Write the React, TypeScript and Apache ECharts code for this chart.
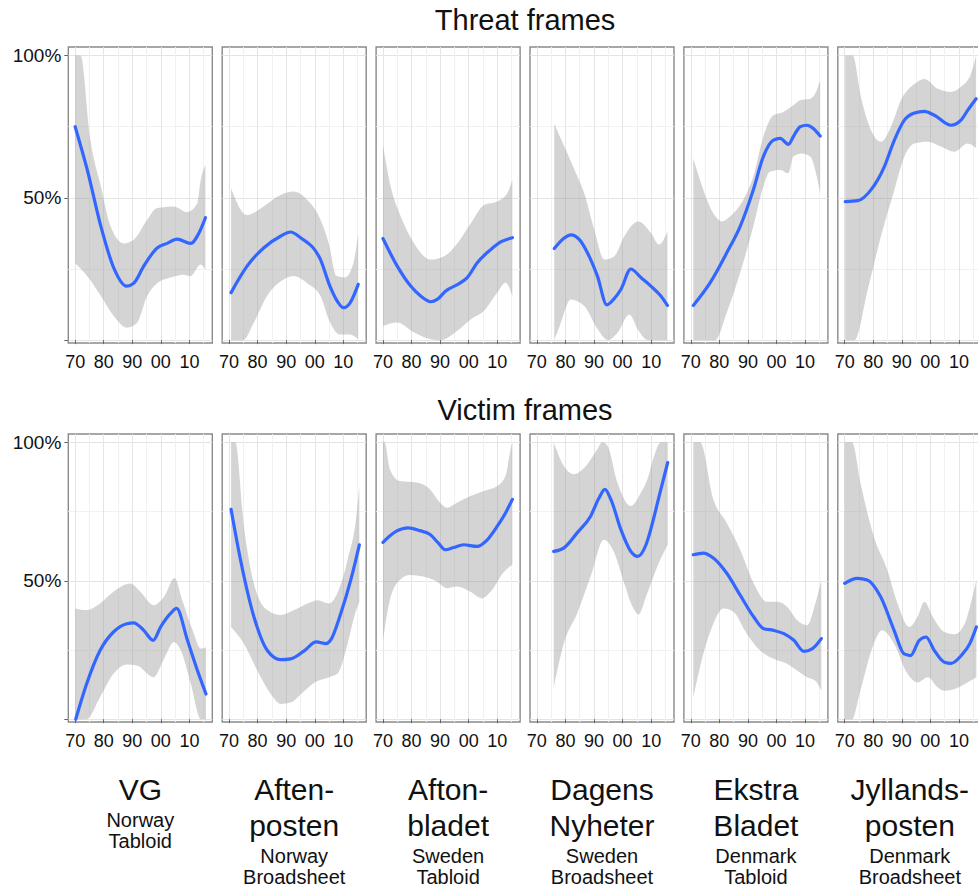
import React, { useEffect, useRef } from 'react';
import * as echarts from 'echarts';

const FONT = '"Liberation Sans", Arial, Helvetica, sans-serif';

// ---- axis ticks ----
const xTickYears = [1970, 1980, 1990, 2000, 2010];
const xTickLabels = ['70', '80', '90', '00', '10'];
const xMinorYears = [1975, 1985, 1995, 2005, 2015];
const yTickValues = [0, 50, 100];
const yTickLabels = ['', '50%', '100%'];
const yMinorValues = [25, 75];

// ---- facet labels ----
const rowTitles = ['Threat frames', 'Victim frames'];
const paperNames = [['VG'], ['Aften-', 'posten'], ['Afton-', 'bladet'], ['Dagens', 'Nyheter'], ['Ekstra', 'Bladet'], ['Jyllands-', 'posten']];
const paperCountries = ['Norway', 'Norway', 'Sweden', 'Sweden', 'Denmark', 'Denmark'];
const paperTypes = ['Tabloid', 'Broadsheet', 'Tabloid', 'Broadsheet', 'Tabloid', 'Broadsheet'];

// ---- Threat frames: [year, percent] ----
const vgThreatFit = [[1970, 75], [1974.2, 60], [1979, 40], [1983.5, 25.4], [1988, 19], [1990.5, 20], [1994, 26], [1998.7, 32.4], [2002.2, 34], [2005.7, 35.5], [2010.4, 34], [2013.3, 37.6], [2015.6, 43]];
const vgThreatUpper = [[1970, 100], [1971.9, 100], [1975.4, 70], [1979, 54], [1982.4, 40], [1987, 34], [1990.5, 35.3], [1995.2, 42.3], [1998.7, 46.4], [2004.5, 47], [2009.2, 45], [2012.7, 48], [2013.9, 56], [2015.6, 61.5]];
const vgThreatLower = [[1970, 27], [1974.2, 22.5], [1979, 15.5], [1983.5, 8.5], [1988.1, 4.4], [1991.6, 6], [1995.2, 15.5], [1998.7, 20], [2003.4, 22], [2008, 23], [2010.4, 22.5], [2013.9, 26.6], [2015.6, 24.8]];

const apThreatFit = [[1970.7, 16.7], [1976.3, 26], [1982.1, 32.4], [1988, 36.5], [1991.5, 38], [1995, 36], [2002, 28.3], [2005.3, 19], [2008, 13.5], [2010, 11.4], [2012.3, 13], [2015.2, 19.6]];
const apThreatUpper = [[1970.7, 53.4], [1976.3, 44], [1982.1, 47], [1988, 51], [1992.6, 52.2], [1997.3, 49.3], [2002, 42.3], [2004.9, 34], [2007.6, 22.5], [2010.6, 22], [2013.5, 27], [2015.2, 37.6]];
const apThreatLower = [[1970.7, 0], [1975, 0], [1978.6, 6], [1983.3, 15.5], [1989.1, 21.3], [1992.6, 22.5], [1997.3, 20], [2002, 15.5], [2004.9, 7.3], [2008.8, 2], [2012.3, 2], [2015.2, 0.3]];

const abThreatFit = [[1970, 35.7], [1975, 26], [1979.7, 19], [1983.2, 15.5], [1986.7, 13.5], [1989, 14.3], [1991.9, 17.2], [1997.2, 20.2], [1999.5, 22], [2003, 27.2], [2007.7, 31.8], [2011.2, 34.5], [2015.3, 36]];
const abThreatUpper = [[1970, 68.5], [1972.7, 54], [1976.2, 43.5], [1980.9, 34], [1986.7, 28.3], [1991.4, 29.5], [1996, 34], [2000.7, 41], [2005.4, 47.5], [2010, 48.7], [2013.5, 51.6], [2015.3, 56.3]];
const abThreatLower = [[1970, 5], [1975, 6.2], [1980.9, 2.7], [1986.7, 0.3], [1990.2, 0], [1996, 3.3], [2000.7, 7.3], [2005.4, 10.3], [2010, 16.7], [2012.9, 20.2], [2015.3, 15.5]];

const dnThreatFit = [[1976.1, 32.2], [1979.6, 35.9], [1981.9, 37], [1984.9, 35.3], [1987.7, 30.7], [1991.2, 22.5], [1994.5, 12.4], [1997, 14.5], [1999.4, 17.8], [2002.9, 25], [2006.4, 22], [2009.9, 19], [2013.4, 15.5], [2015.7, 12.2]];
const dnThreatUpper = [[1976.1, 76], [1979.6, 68], [1983.1, 60], [1986.6, 51.6], [1990.1, 38.8], [1993.6, 28.3], [1997.1, 29.5], [2000.6, 36.5], [2005.5, 41.7], [2009.9, 37.7], [2012.7, 33.6], [2015.7, 38.2]];
const dnThreatLower = [[1976.1, 0], [1978, 5], [1981.9, 14.3], [1986.6, 12], [1991.3, 3.8], [1994.8, 0], [1998.3, 2.7], [2002.4, 9], [2005.3, 3.8], [2008.8, 0], [2015.7, 0]];

const ebThreatFit = [[1970.9, 12.2], [1976.8, 20.2], [1982.6, 30.7], [1987.3, 40], [1991.9, 52.8], [1995.4, 64.5], [1998.9, 70.3], [2001.3, 70.9], [2004.2, 68.8], [2005.9, 71.5], [2008.3, 75], [2010.6, 75.5], [2012.9, 74.4], [2015.3, 71.7]];
const ebThreatUpper = [[1970.9, 63.9], [1974.4, 52.8], [1977.9, 44.6], [1980.9, 41.7], [1983.8, 43.5], [1988.4, 49.3], [1991.9, 57.5], [1995.4, 71.5], [1998.9, 79], [2002.4, 80.2], [2005.9, 82.5], [2008.3, 84.3], [2011.8, 84.8], [2014.1, 87.8], [2015.3, 91.3]];
const ebThreatLower = [[1970.9, 0], [1978.5, 0], [1982.6, 9.7], [1987.3, 23.7], [1991.9, 40], [1995.4, 54], [1997.7, 59.2], [2001.3, 59.8], [2004.2, 58.6], [2005.9, 64.5], [2008.8, 65.6], [2011.8, 64.5], [2014.1, 57.5], [2015.3, 51.6]];

const jpThreatFit = [[1970.2, 48.7], [1974.6, 49], [1979.2, 52.8], [1983.9, 61], [1987.4, 70.3], [1990.9, 77.3], [1994.4, 79.8], [1997.9, 80.4], [2001.4, 79], [2007.2, 75.5], [2010.7, 77.3], [2013.1, 80.8], [2016, 84.8]];
const jpThreatUpper = [[1970.2, 100], [1972.8, 100], [1975.7, 85.4], [1979.2, 73.8], [1982.7, 69.7], [1986.2, 75], [1989.7, 84.3], [1994.4, 90], [1997.9, 91.8], [2002.6, 88.3], [2007.2, 87.2], [2010.7, 89], [2014.2, 93.6], [2016, 100]];
const jpThreatLower = [[1970.2, 0], [1973.4, 0], [1978.1, 17.8], [1982.7, 36.5], [1987.4, 52.8], [1990.9, 64.5], [1994.4, 69.1], [1999.1, 69.7], [2003.7, 68], [2008.3, 66.2], [2013.1, 69.1], [2016, 67.4]];

// ---- Victim frames: [year, percent] ----
const vgVictimFit = [[1970.2, 0], [1974, 12.7], [1978.7, 24.8], [1983.4, 31.5], [1988.1, 34.5], [1990.5, 34.8], [1994, 32.1], [1997.3, 28.5], [1999.9, 33.3], [2003.4, 38.2], [2005.5, 40], [2009.3, 28.5], [2012.8, 17.6], [2015.8, 9.1]];
const vgVictimUpper = [[1970, 40], [1974, 39.4], [1978.7, 41.8], [1983.4, 46], [1989.3, 49], [1992.8, 46], [1997.5, 41.2], [2001.1, 44.2], [2004.8, 51], [2007.5, 43], [2011.1, 32.1], [2014, 25.5], [2015.8, 26]];
const vgVictimLower = [[1970, 0], [1974, 0], [1978.7, 7.9], [1983.4, 16.4], [1988.1, 19.8], [1991.6, 19.4], [1997.5, 15.2], [2001.1, 21.8], [2004.6, 27.9], [2007, 24.8], [2010.5, 12.7], [2014, 0], [2015.8, 0]];

const apVictimFit = [[1970.7, 75.8], [1974, 57.6], [1978.7, 37], [1983.4, 24.8], [1988.1, 21.5], [1991.6, 21.8], [1996.4, 24.8], [2000.5, 27.9], [2004, 27.3], [2005.5, 28.5], [2009.1, 38.2], [2012.6, 50.3], [2015.6, 63]];
const apVictimUpper = [[1970.7, 100], [1972.2, 100], [1975.2, 69.7], [1978.7, 49], [1983.4, 39.4], [1988.1, 37.6], [1992.8, 39.4], [1997.5, 41.8], [2001, 43], [2005, 41.8], [2007.9, 45.5], [2011.5, 57.6], [2014.4, 72], [2015.6, 84]];
const apVictimLower = [[1970.7, 33.3], [1975.2, 27.3], [1979.9, 17.6], [1984.6, 9.1], [1988.1, 5.5], [1991.6, 6], [1995.2, 9.1], [1999.9, 13.3], [2005, 15.2], [2007.9, 16.4], [2011.5, 27.3], [2013.8, 37], [2015.6, 42.4]];

const abVictimFit = [[1970, 63.9], [1974.7, 67.9], [1978.8, 69.1], [1982.9, 68.1], [1986.5, 66.7], [1989.4, 63.6], [1991.8, 61.2], [1994.7, 62], [1998.2, 63], [2002.9, 62.4], [2006.5, 64.8], [2010, 69.7], [2012.9, 74.5], [2015.3, 79.4]];
const abVictimUpper = [[1970, 100], [1970.6, 100], [1972.4, 90.3], [1975.9, 86], [1981.8, 85.5], [1986.5, 83], [1990, 78.2], [1992.4, 76.4], [1995.9, 78.2], [2000.6, 80.6], [2005.3, 82.4], [2010, 84.2], [2012.9, 87.9], [2014.7, 97.6], [2015.3, 100]];
const abVictimLower = [[1970, 28.5], [1972.4, 43], [1975.9, 50.3], [1979.4, 52.1], [1984.1, 51.5], [1988.8, 49.7], [1992.4, 47.3], [1995.9, 47.9], [2000.6, 46], [2004.7, 43.6], [2007.6, 46], [2012.4, 53.3], [2015.3, 55.8]];

const dnVictimFit = [[1975.9, 60.6], [1979.4, 61.8], [1984.1, 67.3], [1988.8, 73.3], [1991.8, 80], [1993.8, 83], [1995.9, 79.4], [1999.4, 68.5], [2002.9, 60.6], [2005.3, 58.8], [2008.2, 63], [2010.5, 71], [2012.8, 80.6], [2015.8, 92.7]];
const dnVictimUpper = [[1975.9, 100], [1979.4, 91.5], [1982.9, 88.5], [1987.6, 92], [1991.2, 97.6], [1992.9, 100], [1994.7, 98.8], [1998.2, 85.5], [2002.9, 77], [2006.5, 82], [2008.7, 86.7], [2011, 95], [2013.4, 100], [2015.8, 100]];
const dnVictimLower = [[1975.9, 11.5], [1979.4, 27.3], [1984.1, 38.2], [1988.8, 51.5], [1993.5, 64.8], [1997.1, 60], [2000.6, 49], [2003.5, 40.6], [2005.6, 37.8], [2008.2, 44.2], [2009.9, 49], [2012.5, 56], [2015.8, 63]];

const ebVictimFit = [[1970.9, 59.4], [1974.4, 60], [1977.9, 58.2], [1982.6, 52.7], [1987.3, 44.8], [1992, 37], [1995.5, 32.7], [1999, 32.1], [2002.6, 30.9], [2006.1, 28.5], [2009.6, 24.5], [2012.6, 25.5], [2015.7, 29.1]];
const ebVictimUpper = [[1970.9, 100], [1973.3, 100], [1977.9, 79.4], [1982.6, 70.9], [1987.3, 61.2], [1992, 49.1], [1996.7, 42.4], [2000.2, 42.4], [2003.7, 40.6], [2007.2, 35.8], [2010.7, 33.9], [2013.6, 41.8], [2015.7, 50.3]];
const ebVictimLower = [[1970.9, 7.9], [1974.4, 23.6], [1977.9, 34.5], [1981.4, 40], [1984.9, 38.8], [1989.6, 30.9], [1994.3, 24.8], [1999, 21.8], [2003.7, 20], [2007.2, 17.6], [2010.7, 15.2], [2013.6, 13.9], [2015.7, 10.3]];

const jpVictimFit = [[1970, 49.1], [1974.4, 50.9], [1977.9, 50.3], [1982.6, 44.2], [1987.3, 32.1], [1990.8, 23.6], [1993.1, 23], [1996.1, 28.5], [1998.5, 29.7], [2001.4, 24.8], [2004.9, 20.6], [2007.3, 20.2], [2010.8, 23], [2013.8, 27.3], [2016.1, 33.3]];
const jpVictimUpper = [[1970, 100], [1972.6, 100], [1975.5, 85.5], [1980.2, 66], [1984.9, 54], [1988.5, 41.8], [1992.6, 33.3], [1995.5, 37], [1997.9, 42.4], [2000.8, 37], [2004.9, 31.5], [2008.5, 30.7], [2012, 34.5], [2014.4, 43], [2016.1, 50.3]];
const jpVictimLower = [[1970, 0], [1972.6, 0], [1975.5, 10.3], [1980.2, 27.3], [1983.1, 32.1], [1987.3, 27.3], [1992, 16.4], [1995.5, 13.3], [1999.1, 15.2], [2002.6, 11.5], [2004.9, 10.3], [2008.5, 10.9], [2012, 12.7], [2016.1, 15.2]];

const threatPanels = [
  [vgThreatFit, vgThreatUpper, vgThreatLower],
  [apThreatFit, apThreatUpper, apThreatLower],
  [abThreatFit, abThreatUpper, abThreatLower],
  [dnThreatFit, dnThreatUpper, dnThreatLower],
  [ebThreatFit, ebThreatUpper, ebThreatLower],
  [jpThreatFit, jpThreatUpper, jpThreatLower],
];
const victimPanels = [
  [vgVictimFit, vgVictimUpper, vgVictimLower],
  [apVictimFit, apVictimUpper, apVictimLower],
  [abVictimFit, abVictimUpper, abVictimLower],
  [dnVictimFit, dnVictimUpper, dnVictimLower],
  [ebVictimFit, ebVictimUpper, ebVictimLower],
  [jpVictimFit, jpVictimUpper, jpVictimLower],
];

// ---- layout constants ----
const X_MIN = 1967.6;
const X_MAX = 2018;
const Y_MIN = -1;
const Y_MAX = 103;
const PANEL_LEFT0 = 68.3;
const PANEL_PITCH = 153.9;
const PANEL_W = 144;
const ROW_TOP = [47, 434];
const ROW_H = [296, 288];
const LINE_COLOR = '#3366FF';
const BAND_COLOR = 'rgba(153,153,153,0.42)';
const TEXT_COLOR = '#111111';

function tangents(p: number[][]) {
  const n = p.length;
  const t = new Array(n).fill(0);
  if (n < 2) return t;
  const h: number[] = [];
  const s: number[] = [];
  for (let i = 0; i < n - 1; i++) {
    h[i] = p[i + 1][0] - p[i][0];
    s[i] = h[i] !== 0 ? (p[i + 1][1] - p[i][1]) / h[i] : 0;
  }
  for (let i = 1; i < n - 1; i++) {
    const pp = (s[i - 1] * h[i] + s[i] * h[i - 1]) / (h[i - 1] + h[i]);
    t[i] = (Math.sign(s[i - 1]) + Math.sign(s[i])) * Math.min(Math.abs(s[i - 1]), Math.abs(s[i]), 0.5 * Math.abs(pp)) || 0;
  }
  t[0] = n > 2 ? (3 * s[0] - t[1]) / 2 : s[0];
  t[n - 1] = n > 2 ? (3 * s[n - 2] - t[n - 2]) / 2 : s[n - 2];
  return t;
}

function segs(p: number[][]) {
  const t = tangents(p);
  const out: number[][] = [];
  for (let i = 0; i < p.length - 1; i++) {
    const h = p[i + 1][0] - p[i][0];
    out.push([
      p[i][0] + h / 3, p[i][1] + (t[i] * h) / 3,
      p[i + 1][0] - h / 3, p[i + 1][1] - (t[i + 1] * h) / 3,
    ]);
  }
  return out;
}

const fx = (v: number) => v.toFixed(2);

function curvePath(pts: number[][]) {
  let d = `M${fx(pts[0][0])},${fx(pts[0][1])}`;
  const s = segs(pts);
  for (let i = 0; i < s.length; i++) {
    const c = s[i];
    d += `C${fx(c[0])},${fx(c[1])} ${fx(c[2])},${fx(c[3])} ${fx(pts[i + 1][0])},${fx(pts[i + 1][1])}`;
  }
  return d;
}

function bandPath(up: number[][], lo: number[][]) {
  let d = curvePath(up);
  const last = lo[lo.length - 1];
  d += `L${fx(last[0])},${fx(last[1])}`;
  const sl = segs(lo);
  for (let i = sl.length - 1; i >= 0; i--) {
    const c = sl[i];
    d += `C${fx(c[2])},${fx(c[3])} ${fx(c[0])},${fx(c[1])} ${fx(lo[i][0])},${fx(lo[i][1])}`;
  }
  d += 'Z';
  return d;
}

function buildOption() {
  const grid: any[] = [];
  const xAxis: any[] = [];
  const yAxis: any[] = [];
  const series: any[] = [];
  const graphic: any[] = [];
  const rows = [threatPanels, victimPanels];

  rows.forEach((panels, r) => {
    panels.forEach((panel, c) => {
      const g = r * 6 + c;
      const [fit, upper, lower] = panel;
      grid.push({
        left: PANEL_LEFT0 + c * PANEL_PITCH,
        top: ROW_TOP[r],
        width: PANEL_W,
        height: ROW_H[r],
        show: true,
        backgroundColor: '#ffffff',
        borderColor: '#8a8a8a',
        borderWidth: 1.4,
        containLabel: false,
        outerBoundsMode: 'none',
      });
      xAxis.push({
        type: 'value', gridIndex: g, min: X_MIN, max: X_MAX, position: 'bottom',
        axisLine: { show: false },
        axisTick: { show: true, length: 4, lineStyle: { color: '#666666', width: 1 }, customValues: xTickYears },
        axisLabel: {
          customValues: xTickYears,
          formatter: (v: number) => {
            const i = xTickYears.indexOf(Math.round(v));
            return i >= 0 ? xTickLabels[i] : '';
          },
          fontSize: 18, fontFamily: FONT, color: TEXT_COLOR, margin: 10,
        },
        splitLine: { show: true, lineStyle: { color: '#e4e4e4', width: 1 } },
      });
      xAxis.push({
        type: 'value', gridIndex: g, min: X_MIN, max: X_MAX, position: 'bottom',
        axisLine: { show: false },
        axisTick: { show: false, customValues: xMinorYears },
        axisLabel: { show: false, customValues: xMinorYears },
        splitLine: { show: true, lineStyle: { color: '#f1f1f1', width: 1 } },
      });
      yAxis.push({
        type: 'value', gridIndex: g, min: Y_MIN, max: Y_MAX, position: 'left',
        axisLine: { show: false },
        axisTick: { show: c === 0, length: 4, lineStyle: { color: '#666666', width: 1 }, customValues: yTickValues },
        axisLabel: {
          show: c === 0,
          customValues: yTickValues,
          formatter: (v: number) => {
            const i = yTickValues.indexOf(Math.round(v));
            return i >= 0 ? yTickLabels[i] : '';
          },
          fontSize: 19, fontFamily: FONT, color: TEXT_COLOR, margin: 7,
        },
        splitLine: { show: true, lineStyle: { color: '#e4e4e4', width: 1 } },
      });
      yAxis.push({
        type: 'value', gridIndex: g, min: Y_MIN, max: Y_MAX, position: 'left',
        axisLine: { show: false },
        axisTick: { show: false, customValues: yMinorValues },
        axisLabel: { show: false, customValues: yMinorValues },
        splitLine: { show: true, lineStyle: { color: '#f1f1f1', width: 1 } },
      });
      // confidence band
      series.push({
        type: 'custom',
        xAxisIndex: 2 * g,
        yAxisIndex: 2 * g,
        clip: true,
        silent: true,
        data: upper,
        encode: { x: 0, y: 1 },
        renderItem: (params: any, api: any) => {
          if (params.dataIndex !== 0) return null;
          const up = upper.map((p) => api.coord(p));
          const lo = lower.map((p) => api.coord(p));
          return {
            type: 'path',
            shape: { pathData: bandPath(up, lo) },
            style: { fill: BAND_COLOR, stroke: null },
          };
        },
      });
      // smoothed fit line
      series.push({
        type: 'custom',
        xAxisIndex: 2 * g,
        yAxisIndex: 2 * g,
        clip: true,
        silent: true,
        data: fit,
        encode: { x: 0, y: 1 },
        renderItem: (params: any, api: any) => {
          if (params.dataIndex !== 0) return null;
          const pts = fit.map((p) => api.coord(p));
          return {
            type: 'path',
            shape: { pathData: curvePath(pts) },
            style: { fill: null, stroke: LINE_COLOR, lineWidth: 3.2, lineCap: 'round', lineJoin: 'round' },
          };
        },
      });
    });
  });

  const centerX = PANEL_LEFT0 + 2.5 * PANEL_PITCH + PANEL_W / 2;
  const textStyle = (text: string, size: number) => ({
    text, fontSize: size, fontFamily: FONT, fill: TEXT_COLOR,
    align: 'center', verticalAlign: 'middle', textAlign: 'center', textVerticalAlign: 'middle',
  });
  graphic.push({ type: 'text', x: centerX, y: 20, style: textStyle(rowTitles[0], 29) });
  graphic.push({ type: 'text', x: centerX, y: 410, style: textStyle(rowTitles[1], 29) });

  paperNames.forEach((lines, c) => {
    const cx = PANEL_LEFT0 + c * PANEL_PITCH + PANEL_W / 2;
    lines.forEach((ln, k) => {
      graphic.push({ type: 'text', x: cx, y: 789 + k * 36, style: textStyle(ln, 30) });
    });
    const sy = 789 + lines.length * 36 - 5;
    [paperCountries[c], paperTypes[c]].forEach((ln, k) => {
      graphic.push({ type: 'text', x: cx, y: sy + k * 20.5, style: textStyle(ln, 20) });
    });
  });

  return {
    animation: false,
    backgroundColor: '#ffffff',
    textStyle: { fontFamily: FONT },
    grid,
    xAxis,
    yAxis,
    series,
    graphic,
  };
}

export default function App() {
  const ref = useRef<HTMLDivElement>(null);
  useEffect(() => {
    if (!ref.current) return;
    const chart = echarts.init(ref.current, null, { renderer: 'svg' });
    chart.setOption(buildOption() as any);
    return () => chart.dispose();
  }, []);
  return (
    <div
      ref={ref}
      style={{ position: 'absolute', left: 0, top: 0, width: 978, height: 890, background: '#fff' }}
    />
  );
}
